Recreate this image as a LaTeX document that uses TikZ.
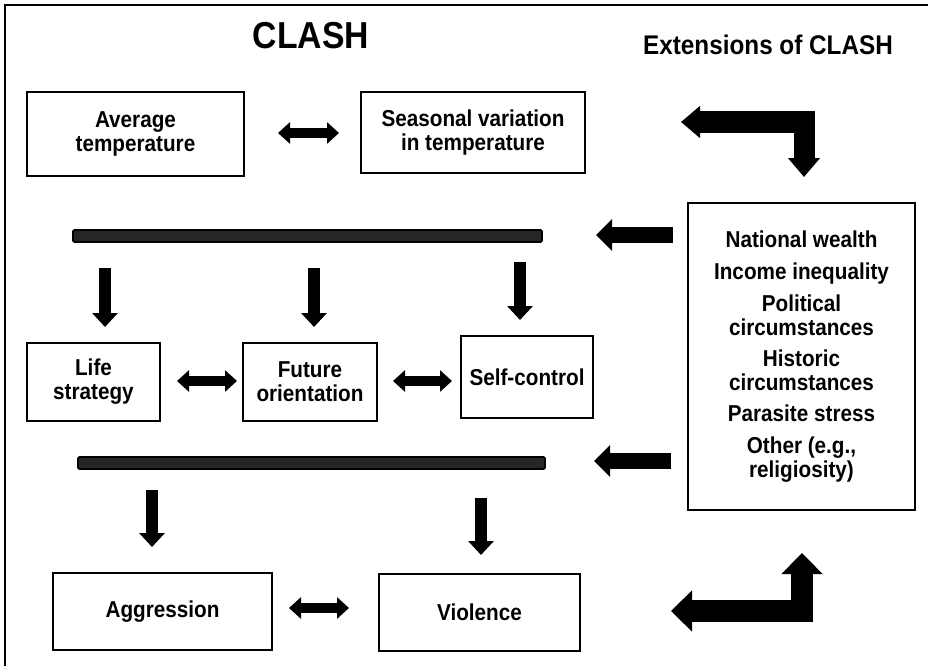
\documentclass[tikz,border=0pt]{standalone}
\usepackage{fontspec}
\setmainfont{Liberation Sans}[FakeStretch=0.9]
\usetikzlibrary{arrows.meta}
\definecolor{bargray}{HTML}{262626}
\tikzset{
  box/.style={draw=black, line width=2pt, fill=white, align=center, inner sep=2pt,
    font=\fontsize{23}{24}\selectfont\bfseries},
  bar/.style={draw=black, line width=1.8pt, fill=bargray, rounded corners=1.5pt, inner sep=0pt},
  dn/.style={line width=12pt, -{Triangle[width=25pt,length=14pt]}},
  dbl/.style={line width=10pt, {Triangle[width=21pt,length=12pt]}-{Triangle[width=21pt,length=12pt]}},
  lft/.style={line width=16pt, -{Triangle[width=31pt,length=16pt]}},
  bentA/.style={line width=21pt, line join=miter, {Triangle[width=31pt,length=19pt]}-{Triangle[width=31pt,length=19pt]}},
  bentB/.style={line width=22pt, line join=miter, {Triangle[width=40pt,length=21pt]}-{Triangle[width=40pt,length=21pt]}},
}
\begin{document}
\begin{tikzpicture}[x=1pt,y=-1pt]
\useasboundingbox (0,0) rectangle (928,666);
\fill[white] (0,0) rectangle (928,666);
% outer frame (left and top edges)
\draw[line width=1.5pt] (5,666) -- (5,5) -- (928,5);
% titles
\node[font=\fontsize{37.5}{40}\selectfont\bfseries] (title) at (311,36) {CLASH};
\node[font=\fontsize{27}{30}\selectfont\bfseries] (exttitle) at (768,45) {Extensions of CLASH};
% boxes
\node[box, minimum width=217pt, minimum height=84pt] (avg) at (135.5,134) {Average\\temperature};
\node[box, minimum width=224pt, minimum height=81pt] (seas) at (473,132.5) {Seasonal variation\\in temperature};
\node[box, minimum width=133pt, minimum height=78pt] (life) at (93.5,382) {Life\\strategy};
\node[box, minimum width=134pt, minimum height=78pt] (fut) at (310,382) {Future\\orientation};
\node[box, minimum width=132pt, minimum height=82pt] (self) at (527,377) {Self-control};
\node[box, minimum width=219pt, minimum height=77pt] (aggr) at (162.5,611.5) {Aggression};
\node[box, minimum width=201pt, minimum height=77pt] (viol) at (479.5,612.5) {Violence};
\node[box, minimum width=227pt, minimum height=307pt, font=\fontsize{23}{24}\selectfont\bfseries] (ext) at (801.5,356.5)
  {National wealth\\[8pt]Income inequality\\[8pt]Political\\circumstances\\[7pt]Historic\\circumstances\\[7pt]Parasite stress\\[8pt]Other (e.g.,\\religiosity)};
% bars
\node[bar, minimum width=469pt, minimum height=12pt] (bar1) at (307.5,236) {};
\node[bar, minimum width=467pt, minimum height=12pt] (bar2) at (311.5,463) {};
% coordinates for arrow ends
\coordinate (d1s) at (105,268); \coordinate (d1e) at (105,327);
\coordinate (d2s) at (314,268); \coordinate (d2e) at (314,327);
\coordinate (d3s) at (520,262); \coordinate (d3e) at (520,320);
\coordinate (d4s) at (152,490); \coordinate (d4e) at (152,547);
\coordinate (d5s) at (481,498); \coordinate (d5e) at (481,555);
% double arrows
\draw[dbl] (278,133) -- (339,133);
\draw[dbl] (177,381) -- (237,381);
\draw[dbl] (393,381) -- (452,381);
\draw[dbl] (289,608) -- (349,608);
% down arrows from bars
\draw[dn] (d1s) -- (d1e);
\draw[dn] (d2s) -- (d2e);
\draw[dn] (d3s) -- (d3e);
\draw[dn] (d4s) -- (d4e);
\draw[dn] (d5s) -- (d5e);
% arrows from extensions box to bars
\coordinate (l1s) at (673,235); \coordinate (l1e) at (596,235);
\coordinate (l2s) at (671,461); \coordinate (l2e) at (594,461);
\draw[lft] (l1s) -- (l1e);
\draw[lft] (l2s) -- (l2e);
% bent arrows
\coordinate (bAl) at (681,122); \coordinate (bAd) at (804,177);
\draw[bentA] (bAl) -| (bAd);
\coordinate (bBl) at (671,611); \coordinate (bBu) at (802,553);
\draw[bentB] (bBl) -| (bBu);
\end{tikzpicture}
\end{document}
